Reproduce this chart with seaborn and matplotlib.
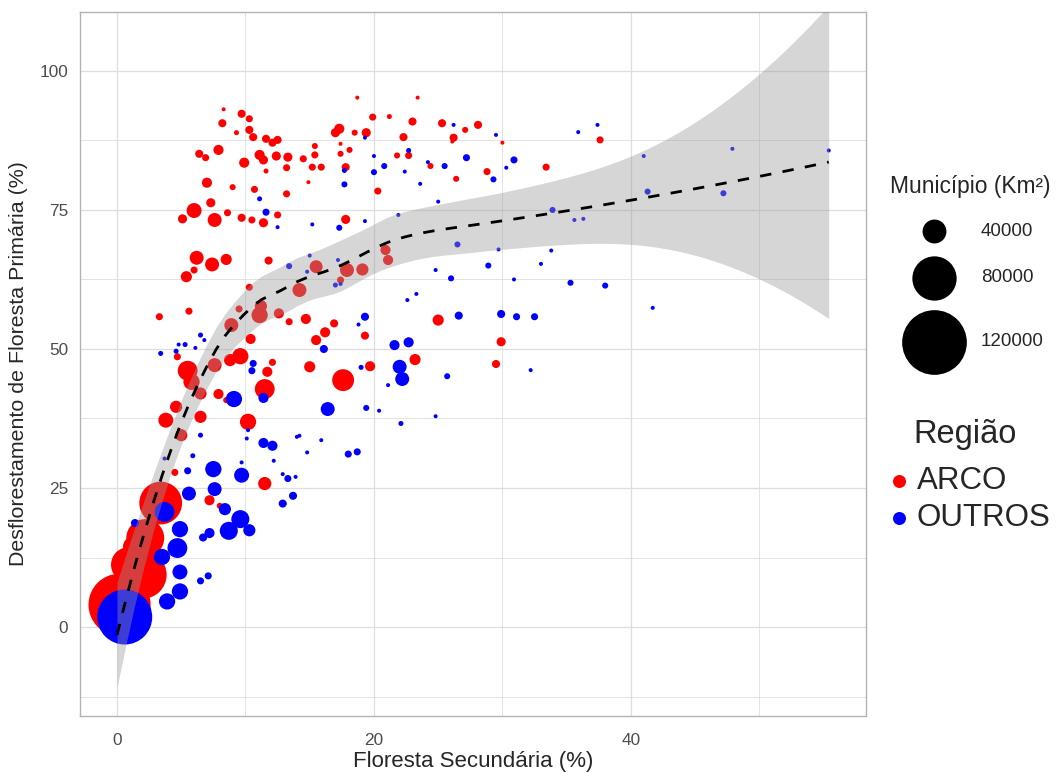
import numpy as np
import pandas as pd
import seaborn as sns
import matplotlib.pyplot as plt
from matplotlib.ticker import MultipleLocator

# Municipios do ARCO (x = floresta secundaria %, y = desflorestamento %, area km2)
arco_x = [8.3, 9.7, 10.3, 8.2, 9.3, 10.3, 10.6, 11.6, 12.1, 12.5, 6.4, 6.9, 7.9, 11.1, 11.4, 12.4,
          13.3, 9.9, 13.2, 11.6, 7.0, 9.0, 10.7, 13.2, 7.3, 6.0, 5.1, 7.6, 8.6, 9.7, 10.5, 11.4,
          12.5, 18.7, 23.4, 19.9, 21.2, 23.0, 25.3, 27.1, 28.1, 17.3, 17.0, 18.5, 19.4, 22.3, 26.2,
          26.1, 15.4, 17.4, 18.1, 14.5, 15.4, 17.4, 21.8, 22.7, 24.4, 28.8, 15.2, 15.9, 17.8, 26.4,
          14.9, 20.3, 17.8, 30.0, 37.6, 33.4, 29.9, 29.5, 6.2, 7.4, 8.5, 6.0, 5.4, 11.8, 10.3,
          11.2, 12.6, 13.4, 9.5, 8.9, 11.1, 10.4, 5.6, 3.3, 4.7, 5.5, 5.8, 7.6, 9.6, 8.8, 12.1,
          11.7, 11.5, 7.9, 8.5, 6.5, 4.6, 6.5, 3.8, 10.2, 20.9, 21.1, 15.5, 17.9, 19.1, 17.4,
          14.2, 14.7, 16.9, 16.2, 15.5, 19.3, 25.0, 23.2, 15.0, 17.6, 19.7, 5.0, 4.5, 11.5, 7.2,
          8.0, 0.4, 1.0, 1.6, 0.3, 2.4, 1.2, 0.7, 3.4, 2.2, 2.0, 0.2, 0.9]
arco_y = [93.1, 92.3, 91.4, 90.6, 88.9, 89.4, 88.1, 87.8, 87.1, 87.6, 85.1, 84.4, 85.8, 84.9, 84.0,
          84.7, 84.5, 83.5, 82.6, 82.0, 79.9, 79.1, 78.7, 77.9, 76.3, 74.9, 73.4, 73.2, 74.5, 73.6,
          73.2, 72.7, 74.1, 95.2, 95.2, 91.7, 91.8, 90.9, 90.6, 89.4, 90.3, 89.6, 88.9, 88.9, 88.9,
          88.1, 88.0, 87.3, 86.5, 86.9, 85.8, 84.2, 84.9, 85.1, 84.8, 84.8, 82.9, 81.9, 82.7, 82.7,
          82.7, 80.6, 80.0, 78.4, 73.3, 87.1, 87.6, 82.7, 51.3, 47.3, 66.4, 65.2, 66.1, 64.2, 63.0,
          65.9, 61.1, 57.7, 56.4, 54.9, 57.2, 54.3, 56.1, 51.8, 56.8, 55.8, 48.6, 46.1, 44.1, 47.1,
          48.7, 48.0, 47.6, 45.9, 42.8, 41.9, 40.8, 42.0, 39.6, 37.8, 37.2, 36.9, 67.8, 66.0, 64.8,
          64.2, 64.3, 62.4, 60.6, 55.4, 54.6, 53.0, 51.6, 52.4, 55.2, 48.1, 46.8, 44.4, 46.9, 34.5,
          27.8, 25.8, 22.8, 21.8, 1.0, 6.0, 2.5, 8.0, 12.0, 14.5, 3.5, 22.3, 16.0, 9.4, 4.0, 11.2]
arco_area = [1000, 9000, 7000, 9000, 3000, 9000, 9000, 9000, 9000, 9000, 9000, 7000, 13000, 13000,
             11000, 11000, 11000, 13000, 7000, 3000, 13000, 5000, 7000, 7000, 11000, 22500, 11000,
             20500, 7000, 9000, 7000, 11000, 7000, 1000, 1000, 7000, 3000, 9000, 9000, 5000, 9000,
             13000, 11000, 5000, 11000, 9000, 9000, 1000, 5000, 1000, 5000, 7000, 7000, 5000, 5000,
             7000, 5000, 7000, 7000, 7000, 9000, 5000, 1000, 7000, 11000, 1000, 7000, 7000, 11000,
             9000, 20500, 20500, 15000, 7000, 15000, 9000, 7000, 17000, 13000, 7000, 7000, 20500,
             25000, 13000, 7000, 7000, 7000, 32000, 25000, 20500, 25000, 17000, 7000, 13000, 32000,
             13000, 5000, 17000, 17000, 17000, 22500, 25000, 13000, 13000, 18500, 20500, 17000,
             7000, 20500, 13000, 9000, 13000, 13000, 9000, 15000, 15000, 15000, 36000, 13000,
             17000, 7000, 19000, 13000, 5000, 30000, 40000, 20000, 25000, 30000, 30000, 20000,
             77000, 67500, 87000, 115000, 62000]

# Demais municipios (OUTROS)
outros_x = [11.1, 11.6, 12.5, 26.2, 19.3, 20.0, 22.7, 24.2, 25.5, 27.2, 17.7, 20.8, 20.0, 22.4, 17.7,
            23.6, 25.0, 21.9, 15.2, 17.3, 19.3, 13.4, 26.5, 17.2, 14.8, 15.0, 17.0, 17.4, 24.8, 26.0,
            28.9, 22.6, 23.3, 19.3, 18.8, 16.1, 26.6, 21.6, 22.7, 19.0, 22.0, 22.2, 21.1, 25.7, 16.4,
            19.4, 20.4, 22.1, 24.8, 29.5, 35.9, 37.4, 30.9, 30.3, 29.3, 41.0, 47.9, 55.4, 33.9, 35.6,
            36.3, 41.3, 47.2, 29.7, 33.8, 33.0, 30.9, 35.3, 38.0, 41.7, 29.9, 31.1, 32.5, 32.2, 6.5,
            6.8, 5.3, 4.8, 6.1, 3.4, 4.6, 10.6, 10.5, 11.4, 9.1, 6.5, 10.2, 10.1, 11.4, 12.1, 3.7,
            5.9, 9.7, 12.2, 7.5, 9.7, 12.9, 5.5, 5.6, 7.6, 8.4, 12.9, 13.7, 9.6, 8.7, 10.3, 7.2, 6.7,
            3.7, 1.4, 4.9, 4.7, 3.5, 4.9, 4.9, 3.9, 0.6, 7.1, 6.5, 14.0, 14.2, 15.9, 14.8, 18.0,
            18.7, 13.3, 13.9, 0.2, 1.0, 1.8, 0.0, 0.5, 1.4, 2.2, 0.3]
outros_y = [77.0, 74.6, 71.9, 90.3, 88.0, 84.7, 85.7, 83.6, 82.9, 84.4, 82.1, 82.9, 81.8, 81.9, 79.6,
            79.7, 76.5, 74.1, 72.4, 71.8, 73.0, 64.9, 68.8, 66.0, 63.9, 66.8, 61.5, 61.7, 64.2, 62.7,
            65.0, 58.8, 59.9, 55.8, 54.4, 50.0, 56.0, 50.7, 51.2, 46.7, 46.8, 44.6, 43.5, 45.1, 39.2,
            39.4, 38.9, 36.6, 37.9, 88.5, 89.0, 90.3, 84.0, 82.6, 80.5, 84.7, 86.0, 85.7, 75.0, 73.2,
            73.4, 78.3, 78.0, 67.9, 67.7, 65.3, 62.5, 61.9, 61.4, 57.4, 56.3, 55.8, 55.8, 46.2, 52.5,
            51.6, 50.8, 50.8, 50.2, 49.2, 49.6, 47.4, 46.1, 41.2, 41.0, 34.5, 35.4, 33.9, 33.1, 32.6,
            30.3, 30.8, 29.6, 29.9, 28.4, 27.3, 27.5, 28.1, 24.0, 24.8, 21.2, 22.2, 23.6, 19.4, 17.3,
            17.4, 16.9, 16.1, 20.7, 18.7, 17.6, 14.2, 12.6, 9.9, 6.4, 4.6, 1.8, 9.2, 8.3, 34.2, 34.4,
            33.6, 31.4, 31.1, 31.5, 26.7, 27.0, 0.5, 2.5, 1.0, 3.5, 4.5, 0.0, 2.8, 1.5]
outros_area = [3000, 7000, 1000, 1000, 1000, 1000, 3000, 1000, 5000, 7000, 3000, 5000, 5000, 1000,
               5000, 1000, 1000, 1000, 1000, 5000, 1000, 5000, 5000, 1000, 1000, 1000, 3000, 1000,
               1000, 5000, 5000, 1000, 1000, 9000, 1000, 9000, 9000, 13000, 13000, 3000, 20500,
               20500, 1000, 5000, 20500, 5000, 1000, 3000, 1000, 1000, 1000, 1000, 7000, 1000, 5000,
               1000, 1000, 1000, 5000, 1000, 1000, 5000, 5000, 1000, 1000, 1000, 1000, 5000, 5000,
               1000, 9000, 7000, 7000, 1000, 3000, 1000, 3000, 1000, 1000, 3000, 3000, 7000, 7000,
               13000, 25000, 3000, 1000, 1000, 13000, 13000, 1000, 3000, 1000, 1000, 25000, 22500,
               1000, 7000, 20500, 20500, 17000, 9000, 9000, 28500, 28500, 17000, 13000, 9000, 32000,
               9000, 25000, 32000, 25000, 22500, 25000, 25000, 101000, 7000, 7000, 1000, 1000, 1000,
               1000, 7000, 7000, 7000, 1000, 15000, 20000, 15000, 10000, 12000, 20000, 15000, 10000]

legend_areas = [40000, 80000, 120000]
cores = {"ARCO": "#FF0000", "OUTROS": "#0000FF"}

df = pd.DataFrame({
    "secundaria": arco_x + outros_x,
    "primaria": arco_y + outros_y,
    "area": arco_area + outros_area,
    "regiao": ["ARCO"] * len(arco_x) + ["OUTROS"] * len(outros_x),
})


def marker_s(v):
    # point diameter grows linearly with the area value (pixels at 100 dpi -> pt^2)
    d_px = 3.5 + 20.4 * v / 40000
    return (d_px * 0.72) ** 2


def loess(x, y, xg, span=0.75, cell=0.2):
    # local quadratic fit at kd-tree vertices + cubic hermite interpolation (like R's loess)
    n = len(x)
    q = int(np.floor(n * span))

    def local(x0):
        d = np.abs(x - x0)
        h = np.sort(d)[q - 1]
        w = np.clip(1 - (d / h) ** 3, 0, None) ** 3
        X = np.column_stack([np.ones(n), x - x0, (x - x0) ** 2])
        XtW = X.T * w
        B = np.linalg.solve(XtW @ X, XtW)
        return B[0], B[1]

    fc = int(np.floor(n * span * cell))
    mu = 0.005 * (x.max() - x.min())
    verts = [x.min() - mu, x.max() + mu]

    def split(vals):
        if len(vals) <= fc:
            return
        vals = np.sort(vals)
        m = (len(vals) + 1) // 2
        v = (vals[m - 1] + vals[m]) / 2
        verts.append(v)
        split(vals[:m])
        split(vals[m:])

    split(x)
    verts = np.array(sorted(verts))
    vrows = [local(v) for v in verts]

    def rows(x0s):
        L = np.zeros((len(x0s), n))
        for k, x0 in enumerate(x0s):
            i = min(np.searchsorted(verts, x0, side="right") - 1, len(verts) - 2)
            hh = verts[i + 1] - verts[i]
            t = (x0 - verts[i]) / hh
            h00 = 2 * t ** 3 - 3 * t ** 2 + 1
            h10 = t ** 3 - 2 * t ** 2 + t
            h01 = -2 * t ** 3 + 3 * t ** 2
            h11 = t ** 3 - t ** 2
            L[k] = (h00 * vrows[i][0] + h10 * hh * vrows[i][1]
                    + h01 * vrows[i + 1][0] + h11 * hh * vrows[i + 1][1])
        return L

    L = rows(x)
    res = y - L @ y
    M = np.eye(n) - L
    one_delta = np.trace(M.T @ M)
    s = np.sqrt(np.sum(res ** 2) / one_delta)
    Lg = rows(xg)
    fit = Lg @ y
    se = s * np.sqrt(np.sum(Lg ** 2, axis=1))
    return fit, fit - 1.97 * se, fit + 1.97 * se


sns.set_style("white")
plt.rcParams["font.family"] = ["Liberation Sans", "DejaVu Sans"]

fig = plt.figure(figsize=(10.56, 7.72), dpi=100)
ax = fig.add_axes([80 / 1056, 1 - 716 / 772, 786 / 1056, 704 / 772])

sns.scatterplot(data=df, x="secundaria", y="primaria", hue="regiao", palette=cores,
                size="area", sizes={v: marker_s(v) for v in df["area"].unique()},
                linewidth=0, legend=False, ax=ax, zorder=2)

xs = df["secundaria"].to_numpy(float)
ys = df["primaria"].to_numpy(float)
xg = np.linspace(xs.min(), xs.max(), 80)
fit, lo, hi = loess(xs, ys, xg)
ax.fill_between(xg, lo, hi, color="#999999", alpha=0.4, linewidth=0, zorder=3)
ax.plot(xg, fit, color="black", lw=2, linestyle=(0, (4.1, 4.1)), zorder=4)

ax.set_xlim(-2.88, 58.3)
ax.set_ylim(-16.0, 110.6)
ax.xaxis.set_major_locator(MultipleLocator(20))
ax.xaxis.set_minor_locator(MultipleLocator(10))
ax.yaxis.set_major_locator(MultipleLocator(25))
ax.yaxis.set_minor_locator(MultipleLocator(12.5))
ax.set_axisbelow(True)
ax.grid(which="major", color="#DEDEDE", lw=0.9)
ax.grid(which="minor", color="#DEDEDE", lw=0.6)
for sp in ax.spines.values():
    sp.set_color("#B3B3B3")
    sp.set_linewidth(1.0)
ax.tick_params(which="major", length=3.5, width=0.8, color="#B3B3B3",
               labelcolor="#4D4D4D", labelsize=12.4, pad=5)
ax.tick_params(which="minor", length=0)
ax.tick_params(axis="x", pad=9)
ax.set_xlabel("Floresta Secundária (%)", fontsize=16, labelpad=2)
ax.set_ylabel("Desflorestamento de Floresta Primária (%)", fontsize=15.4, labelpad=8)

# legends drawn in figure pixel coordinates
lg = fig.add_axes([0, 0, 1, 1], facecolor="none")
lg.set_xlim(0, 1056)
lg.set_ylim(772, 0)
lg.axis("off")
lg.text(890, 186, "Município (Km²)", fontsize=16.4, va="center", ha="left")
for yy, v in zip([231, 278, 342], legend_areas):
    lg.scatter([934], [yy], s=marker_s(v), color="black", linewidth=0)
    lg.text(981, yy, str(v), fontsize=13.5, va="center", ha="left")
lg.text(913, 434, "Região", fontsize=23.5, va="center", ha="left")
for yy, nome in zip([481, 518], ["ARCO", "OUTROS"]):
    lg.scatter([899], [yy], s=(13 * 0.72) ** 2, color=cores[nome], linewidth=0)
    lg.text(917, yy, nome, fontsize=22.5, va="center", ha="left")

fig.savefig("out.png", dpi=100)
